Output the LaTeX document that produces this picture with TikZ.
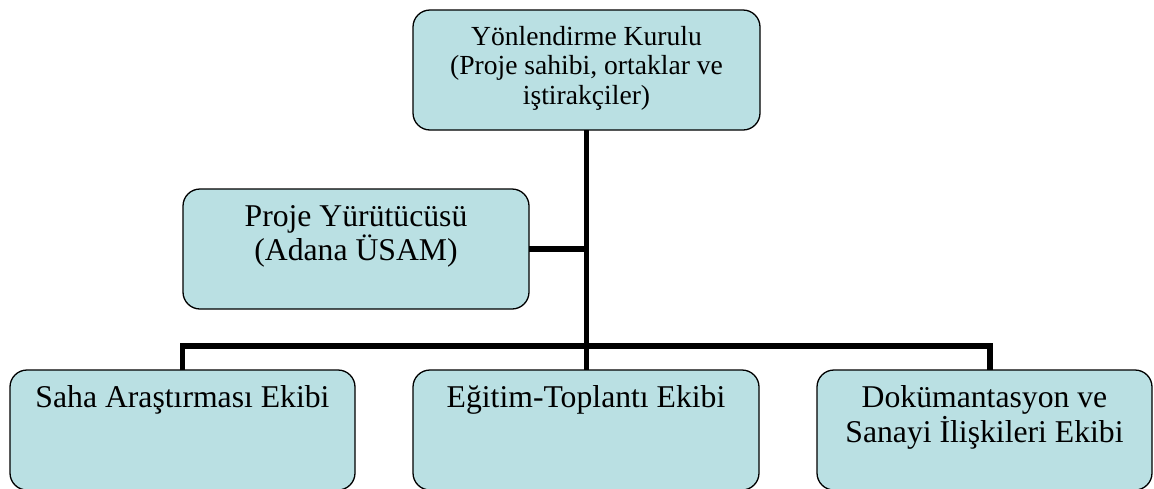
\documentclass[tikz,border=0pt]{standalone}
\usepackage{fontspec}
\setmainfont{Liberation Serif}
\definecolor{boxfill}{RGB}{186,224,227}
\tikzset{
  orgbox/.style={draw=black, line width=1.3pt, fill=boxfill, rounded corners=17pt, inner sep=0pt, outer sep=0pt, anchor=north west},
  conn/.style={draw=black, line width=5.5pt, line cap=rect}
}
\newcommand{\boxtxt}[5]{\parbox[t][#2pt][t]{#1pt}{\centering\fontsize{#3}{#4}\selectfont\rule{0pt}{#5pt}\ignorespaces}}
\begin{document}
\begin{tikzpicture}[x=1pt,y=-1pt]
\useasboundingbox (0,0) rectangle (1154,488);
\fill[white] (0,0) rectangle (1154,488);
\clip (0,0) rectangle (1154,488);
% connectors (behind boxes)
\coordinate (bus) at (0,346);
\coordinate (j3) at (990,370);
\node[orgbox] (top) at (413,10) {\parbox[t][120pt][t]{347pt}{\centering\fontsize{27.6}{29.5}\selectfont\rule{0pt}{35pt}Yönlendirme Kurulu\\(Proje sahibi, ortaklar ve\\iştirakçiler)}};
\node[orgbox] (mid) at (183,189) {\parbox[t][120pt][t]{346pt}{\centering\fontsize{31.7}{34}\selectfont\rule{0pt}{37pt}Proje Yürütücüsü\\(Adana ÜSAM)}};
\node[orgbox] (b1) at (10,370) {\parbox[t][120pt][t]{345pt}{\centering\fontsize{31.7}{35}\selectfont\rule{0pt}{37pt}Saha Araştırması Ekibi}};
\node[orgbox] (b2) at (413,370) {\parbox[t][120pt][t]{346pt}{\centering\fontsize{31.7}{35}\selectfont\rule{0pt}{37pt}Eğitim-Toplantı Ekibi}};
\node[orgbox] (b3) at (817,370) {\parbox[t][120pt][t]{335pt}{\centering\fontsize{31.7}{35}\selectfont\rule{0pt}{37pt}Dokümantasyon ve\\Sanayi İlişkileri Ekibi}};
\draw[conn, line cap=butt] (top.south) -- (top.south |- b2.north);
\draw[conn, line cap=butt] (mid.east) -- (mid.east -| top.south);
\draw[conn, line cap=butt, line join=miter] (b1.north) -- (b1.north |- bus) -- (j3 |- bus) -- (j3);
\end{tikzpicture}
\end{document}
